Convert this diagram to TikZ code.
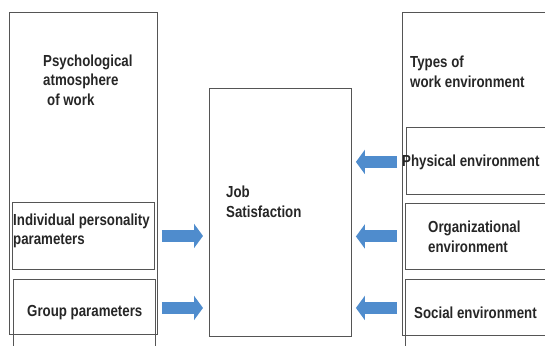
\documentclass[tikz,border=0pt]{standalone}
\usepackage{fontspec}
\setmainfont{Liberation Sans}
\newfontfamily\labelfont[FakeStretch=0.83]{Liberation Sans}
\usetikzlibrary{arrows.meta}
\definecolor{arrowblue}{RGB}{79,140,205}
\definecolor{framegray}{RGB}{85,85,85}

\begin{document}
\begin{tikzpicture}[x=1pt,y=-1pt,
        frame/.style={draw=framegray, line width=0.9pt, inner sep=0pt, anchor=north west},
        boxtext/.style={font=\labelfont\bfseries\fontsize{16}{19.5}\selectfont, text=black!85, align=left, inner sep=0pt, anchor=west},
        blockarrow/.style={arrowblue, line width=12pt, -{Triangle[length=9pt,width=24pt]}}]
        \useasboundingbox (0,0) rectangle (545,345);
        \clip (0,0) rectangle (545,345);
        % left column
        \node[frame, minimum width=148pt, minimum height=322pt] (psych) at (9,12) {};
        \node[frame, minimum width=142pt, minimum height=67pt] (indiv) at (12,202) {};
        \node[frame, minimum width=142pt, minimum height=81pt] (group) at (13,279) {};
        \node[boxtext] (psychtxt) at (43,80) {Psychological\\atmosphere\\\hspace{4pt}of work};
        \node[boxtext] (indivtxt) at (13,231) {Individual personality\\parameters};
        \node[boxtext] (grouptxt) at (27,313) {Group parameters};
        % centre
        \node[frame, minimum width=142pt, minimum height=248pt] (job) at (209,88) {};
        \node[boxtext] (jobtxt) at (226,202) {Job\\Satisfaction};
        % right column
        \node[frame, minimum width=160pt, minimum height=323pt] (types) at (401.5,12) {};
        \node[frame, minimum width=156pt, minimum height=67pt] (phys) at (406,127) {};
        \node[frame, minimum width=156pt, minimum height=66pt] (org) at (405,203) {};
        \node[frame, minimum width=156pt, minimum height=81pt] (social) at (405,279) {};
        \node[boxtext] (typestxt) at (410,72) {Types of\\work environment};
        \node[boxtext] (physcxt) at (402,162) {Physical environment};
        \node[boxtext] (orgtxt) at (428,237) {Organizational\\environment};
        \node[boxtext] (socialtxt) at (414,313) {Social environment};
        % arrows
        \draw[blockarrow, shorten <=7pt, shorten >=6pt] (indiv.east) -- (indiv.east -| job.west);
        \draw[blockarrow, shorten <=6pt, shorten >=6pt] ([yshift=12pt]group.east) -- ([yshift=12pt]group.east -| job.west);
        \draw[blockarrow, shorten <=9pt, shorten >=4pt] ([yshift=-1pt]phys.west) -- ([yshift=-1pt]phys.west -| job.east);
        \draw[blockarrow, shorten <=8pt, shorten >=4pt] (org.west) -- (org.west -| job.east);
        \draw[blockarrow, shorten <=8pt, shorten >=4pt] ([yshift=12pt]social.west) -- ([yshift=12pt]social.west -| job.east);
\end{tikzpicture}
\end{document}
